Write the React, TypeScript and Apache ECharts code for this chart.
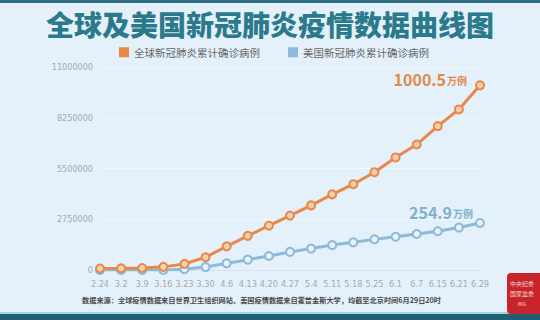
import React, { useEffect, useRef } from "react";
import * as echarts from "echarts";

const categories = ["2.24", "3.2", "3.9", "3.16", "3.23", "3.30", "4.6", "4.13", "4.20", "4.27", "5.4", "5.11", "5.18", "5.25", "6.1", "6.7", "6.15", "6.21", "6.29"];
const globalCases = [80000, 90000, 110000, 170000, 330000, 690000, 1280000, 1850000, 2400000, 2950000, 3500000, 4100000, 4650000, 5300000, 6100000, 6800000, 7800000, 8700000, 10005000];
const usCases = [50, 100, 600, 4600, 43000, 160000, 360000, 560000, 760000, 980000, 1160000, 1350000, 1500000, 1660000, 1800000, 1950000, 2100000, 2300000, 2549000];
const yTicks = [0, 2750000, 5500000, 8250000, 11000000];
const seriesNames = ["全球新冠肺炎累计确诊病例", "美国新冠肺炎累计确诊病例"];
const endLabels = [["1000.5", "万例"], ["254.9", "万例"]];

const ORANGE = "#e8894b";
const BLUE = "#8dbad9";
const FONT = "'Noto Sans CJK SC', 'Noto Sans', sans-serif";

export default function App() {
  const ref = useRef<HTMLDivElement>(null);
  useEffect(() => {
    if (!ref.current) return;
    const chart = echarts.init(ref.current, undefined, { renderer: "svg" });
    const mk = (vals: number[], idx: number, labColor: string, off: number[], dist: number) =>
      vals.map((v, i) =>
        i === vals.length - 1
          ? {
              value: v,
              label: {
                show: true,
                position: "left",
                distance: dist,
                offset: off,
                formatter: `{n|${endLabels[idx][0]}}{u|${endLabels[idx][1]}}`,
                rich: {
                  n: { fontSize: 16, fontWeight: "bold", color: labColor, fontFamily: FONT },
                  u: { fontSize: 10, fontWeight: "bold", color: labColor, fontFamily: FONT, padding: [3, 0, 0, 1] },
                },
              },
            }
          : v
      );
    chart.setOption({
      animation: false,
      backgroundColor: "#e4f0fa",
      textStyle: { fontFamily: FONT },
      title: {
        text: "全球及美国新冠肺炎疫情数据曲线图",
        left: "center",
        top: 5,
        textStyle: { fontSize: 28, fontWeight: 900, color: "#2a7a8c", fontFamily: FONT },
      },
      legend: {
        top: 42,
        left: 114,
        itemWidth: 10,
        itemHeight: 10,
        itemGap: 28,
        icon: "rect",
        lineStyle: { width: 0 },
        data: [
          { name: seriesNames[0], itemStyle: { color: ORANGE, borderWidth: 0 } },
          { name: seriesNames[1], itemStyle: { color: BLUE, borderWidth: 0 } },
        ],
        textStyle: { fontSize: 10.5, color: "#666", fontFamily: FONT },
      },
      grid: { left: 100, right: 60, top: 67, bottom: 50 },
      xAxis: {
        type: "category",
        data: categories,
        boundaryGap: false,
        axisLine: { lineStyle: { color: "#d5e3ee" } },
        axisTick: { show: false },
        axisLabel: { color: "#a3abb3", fontSize: 9, margin: 9, interval: 0, fontFamily: "'DejaVu Sans Condensed', 'Noto Sans', sans-serif" },
      },
      yAxis: {
        type: "value",
        min: yTicks[0],
        max: yTicks[yTicks.length - 1],
        interval: yTicks[1] - yTicks[0],
        axisLine: { show: false },
        axisTick: { show: false },
        axisLabel: { color: "#a3abb3", fontSize: 9, margin: 7, formatter: (v: number) => String(v), fontFamily: "'DejaVu Sans Condensed', 'Noto Sans', sans-serif" },
        splitLine: { lineStyle: { color: "#f2f8fd", width: 1 } },
      },
      series: [
        {
          name: seriesNames[0],
          type: "line",
          data: mk(globalCases, 0, "#e08a4c", [0, -6], 8),
          symbol: "circle",
          symbolSize: 8,
          lineStyle: { color: ORANGE, width: 3 },
          itemStyle: { color: "#f5cfae", borderColor: ORANGE, borderWidth: 2 },
          z: 3,
        },
        {
          name: seriesNames[1],
          type: "line",
          data: mk(usCases, 1, "#7fb2c9", [0, -11], 2),
          symbol: "circle",
          symbolSize: 8,
          lineStyle: { color: BLUE, width: 3 },
          itemStyle: { color: "#e8f2fa", borderColor: BLUE, borderWidth: 2 },
          z: 2,
        },
      ],
      color: [ORANGE, BLUE],
      graphic: [
        { type: "rect", left: 0, top: 0, shape: { width: 540, height: 3 }, style: { fill: "#2f6f86" } },
        { type: "rect", left: 0, top: 312, shape: { width: 540, height: 2 }, style: { fill: "#9fd6df" } },
        { type: "rect", left: 0, top: 314, shape: { width: 540, height: 6 }, style: { fill: "#1f5f73" } },
        {
          type: "text",
          left: 82,
          top: 296,
          style: {
            text: "数据来源：全球疫情数据来自世界卫生组织网站、美国疫情数据来自霍普金斯大学，均截至北京时间6月29日20时",
            fontSize: 7.2,
            fontWeight: "bold",
            fill: "#4a4a4a",
            fontFamily: FONT,
          },
        },
        {
          type: "group",
          left: 507,
          top: 273,
          children: [
            { type: "rect", shape: { x: 0, y: 0, width: 40, height: 41, r: 4 }, style: { fill: "#c8252b" } },
            { type: "text", x: 3, y: 7, style: { text: "中央纪委", fontSize: 6, fill: "#f4d9d0", fontFamily: FONT } },
            { type: "text", x: 3, y: 17, style: { text: "国家监委", fontSize: 6, fill: "#f4d9d0", fontFamily: FONT } },
            { type: "text", x: 11, y: 29, style: { text: "网站", fontSize: 4, fill: "#f4d9d0", fontFamily: FONT } },
          ],
        },
      ],
    });
    return () => chart.dispose();
  }, []);
  return <div ref={ref} style={{ width: 540, height: 320, position: "absolute", left: 0, top: 0 }} />;
}
